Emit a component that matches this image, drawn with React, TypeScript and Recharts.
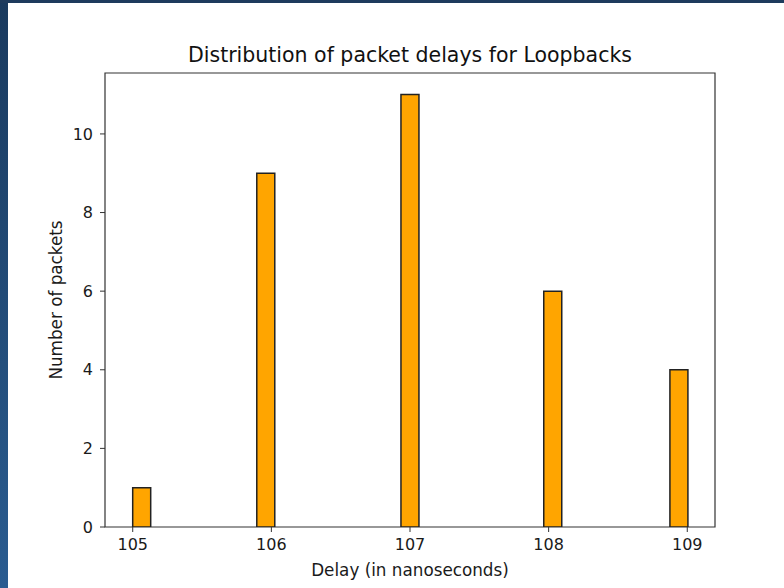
import React from 'react';
import { ComposedChart, Bar, XAxis, YAxis, ReferenceArea } from 'recharts';

const delays = [105.065, 105.96, 107.0, 108.03, 108.94];
const counts = [1, 9, 11, 6, 4];
const xTicks = [105, 106, 107, 108, 109];
const yTicks = [0, 2, 4, 6, 8, 10];
const xDomain = [104.8, 109.2];
const yDomain = [0, 11.55];

const title = 'Distribution of packet delays for Loopbacks';
const xLabel = 'Delay (in nanoseconds)';
const yLabel = 'Number of packets';

const data = delays.map((d, i) => ({ delay: d, count: counts[i] }));

const FONT = '"DejaVu Sans", sans-serif';
const AX = '#333';

export default function App() {
  return (
    <div style={{ position: 'absolute', left: 0, top: 0, width: 784, height: 588, background: '#fff', overflow: 'hidden', fontFamily: FONT }}>
      <div style={{ position: 'absolute', left: 0, top: 0, width: 8, height: 588, background: 'linear-gradient(#1a3a5e, #2a5c90)' }} />
      <div style={{ position: 'absolute', left: 0, top: 0, width: 784, height: 3, background: '#1e3b5d' }} />
      <div style={{ position: 'absolute', left: 105, top: 43, width: 610, textAlign: 'center', fontSize: 20.5, color: '#111', lineHeight: '25px' }}>{title}</div>
      <div style={{ position: 'absolute', left: 0, top: 0 }}>
        <ComposedChart width={784} height={588} data={data} margin={{ top: 73, right: 69, bottom: 0, left: 0 }}>
          <ReferenceArea x1={xDomain[0]} x2={xDomain[1]} y1={yDomain[0]} y2={yDomain[1]} fill="none" stroke={AX} strokeWidth={1.2} ifOverflow="visible" />
          <XAxis
            dataKey="delay"
            type="number"
            domain={xDomain}
            ticks={xTicks}
            allowDataOverflow
            height={61}
            axisLine={false}
            tickLine={{ stroke: AX }}
            tickSize={5}
            tickMargin={7}
            tick={{ fontSize: 16, fill: '#1a1a1a', fontFamily: FONT }}
            label={{ value: xLabel, position: 'insideBottom', offset: 12, fontSize: 16.8, fill: '#1a1a1a', fontFamily: FONT }}
          />
          <YAxis
            type="number"
            domain={yDomain}
            ticks={yTicks}
            allowDataOverflow
            width={105}
            axisLine={false}
            tickLine={{ stroke: AX }}
            tickSize={5}
            tickMargin={7}
            tick={{ fontSize: 16, fill: '#1a1a1a', fontFamily: FONT }}
            label={{ value: yLabel, angle: -90, position: 'insideLeft', offset: 56, fontSize: 16.8, fill: '#1a1a1a', fontFamily: FONT, style: { textAnchor: 'middle' } }}
          />
          <Bar dataKey="count" fill="#FFA500" stroke="#222" strokeWidth={1.5} barSize={18} isAnimationActive={false} />
        </ComposedChart>
      </div>
    </div>
  );
}
